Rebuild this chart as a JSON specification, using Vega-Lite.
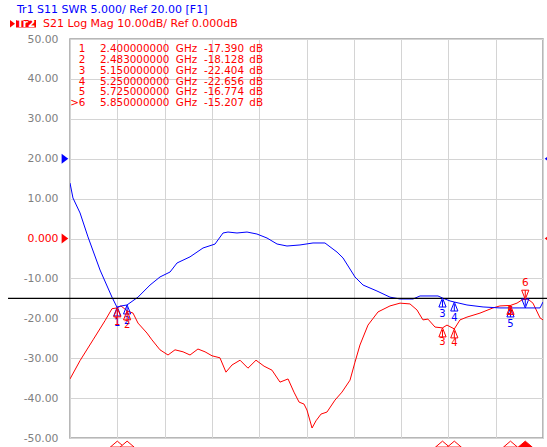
{
  "$schema": "https://vega.github.io/schema/vega-lite/v6.json",
  "width": 473,
  "height": 399,
  "autosize": {"type": "none"},
  "padding": {"left": 70, "top": 39, "right": 4, "bottom": 9},
  "background": "white",
  "config": {
    "view": {"stroke": "#a0a0a0", "strokeWidth": 1.5},
    "text": {"font": "DejaVu Sans", "fontSize": 10.4}
  },
  "datasets": {
    "s21": [
      {"f": 2.000, "db": -35.2}, {"f": 2.085, "db": -30.6}, {"f": 2.195, "db": -25.4}, {"f": 2.296, "db": -20.6},
      {"f": 2.355, "db": -17.6}, {"f": 2.400, "db": -17.39}, {"f": 2.431, "db": -16.9}, {"f": 2.483, "db": -18.13},
      {"f": 2.533, "db": -18.7}, {"f": 2.575, "db": -21.2}, {"f": 2.651, "db": -23.7}, {"f": 2.693, "db": -25.4},
      {"f": 2.761, "db": -27.9}, {"f": 2.829, "db": -29.2}, {"f": 2.888, "db": -27.9}, {"f": 2.956, "db": -28.4},
      {"f": 3.015, "db": -29.2}, {"f": 3.082, "db": -27.7}, {"f": 3.142, "db": -28.4}, {"f": 3.201, "db": -29.4},
      {"f": 3.268, "db": -29.9}, {"f": 3.319, "db": -33.5}, {"f": 3.370, "db": -31.7}, {"f": 3.438, "db": -30.5},
      {"f": 3.505, "db": -32.5}, {"f": 3.573, "db": -30.5}, {"f": 3.641, "db": -32.0}, {"f": 3.708, "db": -33.0},
      {"f": 3.776, "db": -36.0}, {"f": 3.844, "db": -35.2}, {"f": 3.894, "db": -38.5}, {"f": 3.937, "db": -41.0},
      {"f": 3.979, "db": -41.5}, {"f": 4.004, "db": -43.0}, {"f": 4.047, "db": -47.5}, {"f": 4.080, "db": -45.7},
      {"f": 4.123, "db": -44.0}, {"f": 4.173, "db": -43.5}, {"f": 4.241, "db": -40.5}, {"f": 4.300, "db": -38.5},
      {"f": 4.368, "db": -35.5}, {"f": 4.410, "db": -31.0}, {"f": 4.452, "db": -26.7}, {"f": 4.520, "db": -21.7},
      {"f": 4.605, "db": -18.4}, {"f": 4.706, "db": -16.9}, {"f": 4.791, "db": -16.2}, {"f": 4.875, "db": -16.4},
      {"f": 4.934, "db": -17.9}, {"f": 4.985, "db": -20.4}, {"f": 5.027, "db": -20.2}, {"f": 5.087, "db": -22.2},
      {"f": 5.150, "db": -22.40}, {"f": 5.188, "db": -21.7}, {"f": 5.250, "db": -22.66}, {"f": 5.298, "db": -20.4},
      {"f": 5.357, "db": -19.7}, {"f": 5.467, "db": -18.7}, {"f": 5.577, "db": -17.4}, {"f": 5.636, "db": -16.9},
      {"f": 5.725, "db": -16.77}, {"f": 5.780, "db": -16.2}, {"f": 5.822, "db": -15.4}, {"f": 5.850, "db": -15.21},
      {"f": 5.873, "db": -15.2}, {"f": 5.915, "db": -16.2}, {"f": 5.975, "db": -19.9}, {"f": 6.000, "db": -20.4}
    ],
    "s11": [
      {"f": 2.000, "swr": 16.95}, {"f": 2.025, "swr": 15.08}, {"f": 2.085, "swr": 13.2}, {"f": 2.152, "swr": 10.2},
      {"f": 2.254, "swr": 6.05}, {"f": 2.355, "swr": 2.65}, {"f": 2.397, "swr": 1.40}, {"f": 2.431, "swr": 1.54},
      {"f": 2.482, "swr": 1.67}, {"f": 2.575, "swr": 2.65}, {"f": 2.677, "swr": 4.17}, {"f": 2.761, "swr": 5.18},
      {"f": 2.846, "swr": 5.8}, {"f": 2.905, "swr": 6.93}, {"f": 3.015, "swr": 7.7}, {"f": 3.125, "swr": 8.81},
      {"f": 3.226, "swr": 9.3}, {"f": 3.294, "swr": 10.69}, {"f": 3.336, "swr": 10.81}, {"f": 3.412, "swr": 10.69},
      {"f": 3.497, "swr": 10.81}, {"f": 3.581, "swr": 10.56}, {"f": 3.666, "swr": 10.06}, {"f": 3.751, "swr": 9.31},
      {"f": 3.835, "swr": 9.06}, {"f": 3.945, "swr": 9.19}, {"f": 4.055, "swr": 9.44}, {"f": 4.156, "swr": 9.44},
      {"f": 4.258, "swr": 8.3}, {"f": 4.309, "swr": 7.56}, {"f": 4.410, "swr": 5.18}, {"f": 4.478, "swr": 4.17},
      {"f": 4.596, "swr": 3.42}, {"f": 4.706, "swr": 2.65}, {"f": 4.791, "swr": 2.42}, {"f": 4.901, "swr": 2.42},
      {"f": 4.960, "swr": 2.8}, {"f": 5.112, "swr": 2.8}, {"f": 5.150, "swr": 2.54}, {"f": 5.214, "swr": 2.17},
      {"f": 5.250, "swr": 2.04}, {"f": 5.357, "swr": 1.67}, {"f": 5.493, "swr": 1.42}, {"f": 5.636, "swr": 1.3},
      {"f": 5.805, "swr": 1.3}, {"f": 5.975, "swr": 1.3}, {"f": 6.000, "swr": 2.04}
    ],
    "markers": [
      {"n": 1, "tab": "1", "f": 2.4, "db": -17.39, "dbs": "-17.390", "swr": 1.42},
      {"n": 2, "tab": "2", "f": 2.483, "db": -18.128, "dbs": "-18.128", "swr": 1.67},
      {"n": 3, "tab": "3", "f": 5.15, "db": -22.404, "dbs": "-22.404", "swr": 2.54},
      {"n": 4, "tab": "4", "f": 5.25, "db": -22.656, "dbs": "-22.656", "swr": 2.04},
      {"n": 5, "tab": "5", "f": 5.725, "db": -16.774, "dbs": "-16.774", "swr": 1.3},
      {"n": 6, "tab": ">6", "f": 5.85, "db": -15.207, "dbs": "-15.207", "swr": 1.3}
    ],
    "limit": [{"db": -15}]
  },
  "resolve": {"scale": {"y": "independent"}},
  "layer": [
    {
      "data": {"name": "s21"},
      "mark": {"type": "line", "color": "#ff0000", "strokeWidth": 1, "clip": true},
      "encoding": {
        "x": {"field": "f", "type": "quantitative",
          "scale": {"domain": [2, 6], "nice": false, "zero": false},
          "axis": {"values": [2, 2.4, 2.8, 3.2, 3.6, 4.0, 4.4, 4.8, 5.2, 5.6, 6.0], "labels": false, "ticks": false, "domain": false, "grid": true, "gridColor": "#d4d4d4", "gridWidth": 1, "title": null}},
        "y": {"field": "db", "type": "quantitative",
          "scale": {"domain": [-50, 50], "nice": false, "zero": false},
          "axis": {"values": [-50, -40, -30, -20, -10, 0, 10, 20, 30, 40, 50], "grid": true, "gridColor": "#d4d4d4", "gridWidth": 1,
            "ticks": false, "domain": false, "labelPadding": 12, "labelFont": "DejaVu Sans", "labelFontSize": 10.8,
            "labelColor": {"condition": {"test": "datum.value === 0", "value": "#ff0000"}, "value": "#808080"},
            "labelExpr": "datum.value === 0 ? '0.000' : replace(format(datum.value, '.2f'), '\u2212', '-')", "title": null}}
      }
    },
    {
      "data": {"name": "s11"},
      "mark": {"type": "line", "color": "#0000ff", "strokeWidth": 1, "clip": true},
      "encoding": {
        "x": {"field": "f", "type": "quantitative", "scale": {"domain": [2, 6], "nice": false, "zero": false}},
        "y": {"field": "swr", "type": "quantitative", "scale": {"domain": [-15, 35], "nice": false, "zero": false}, "axis": null}
      }
    },
    {
      "data": {"name": "limit"},
      "mark": {"type": "rule", "color": "#000000", "strokeWidth": 1.3, "clip": false},
      "encoding": {
        "x": {"datum": 1.476, "type": "quantitative"},
        "x2": {"datum": 6.04},
        "y": {"field": "db", "type": "quantitative", "scale": {"domain": [-50, 50], "nice": false, "zero": false}, "axis": null}
      }
    },
    {
      "data": {"name": "markers"},
      "transform": [{"filter": "datum.n < 6"}],
      "mark": {"type": "point", "shape": "M0,0L1.2,3L-1.2,3ZM0,0.7L0,3", "size": 36, "stroke": "#0000ff", "strokeWidth": 1, "filled": false, "opacity": 1},
      "encoding": {
        "x": {"field": "f", "type": "quantitative"},
        "y": {"field": "swr", "type": "quantitative", "scale": {"domain": [-15, 35], "nice": false, "zero": false}, "axis": null}
      }
    },
    {
      "data": {"name": "markers"},
      "transform": [{"filter": "datum.n < 6"}],
      "mark": {"type": "text", "color": "#0000ff", "dy": 16, "baseline": "middle", "fontSize": 10},
      "encoding": {
        "x": {"field": "f", "type": "quantitative"},
        "y": {"field": "swr", "type": "quantitative", "scale": {"domain": [-15, 35], "nice": false, "zero": false}, "axis": null},
        "text": {"field": "n"}
      }
    },
    {
      "data": {"name": "markers"},
      "transform": [{"filter": "datum.n == 6"}],
      "mark": {"type": "point", "shape": "M0,0L1.2,-3L-1.2,-3ZM0,-0.7L0,-3", "size": 36, "stroke": "#0000ff", "strokeWidth": 1, "filled": false, "opacity": 1},
      "encoding": {
        "x": {"field": "f", "type": "quantitative"},
        "y": {"field": "swr", "type": "quantitative", "scale": {"domain": [-15, 35], "nice": false, "zero": false}, "axis": null}
      }
    },
    {
      "data": {"name": "markers"},
      "transform": [{"filter": "datum.n < 6"}],
      "mark": {"type": "point", "shape": "M0,0L1.2,3L-1.2,3ZM0,0.7L0,3", "size": 36, "stroke": "#ff0000", "strokeWidth": 1, "filled": false, "opacity": 1},
      "encoding": {
        "x": {"field": "f", "type": "quantitative"},
        "y": {"field": "db", "type": "quantitative", "scale": {"domain": [-50, 50], "nice": false, "zero": false}, "axis": null}
      }
    },
    {
      "data": {"name": "markers"},
      "transform": [{"filter": "datum.n == 6"}],
      "mark": {"type": "point", "shape": "M0,0L1.2,-3L-1.2,-3ZM0,-0.7L0,-3", "size": 36, "stroke": "#ff0000", "strokeWidth": 1, "filled": false, "opacity": 1},
      "encoding": {
        "x": {"field": "f", "type": "quantitative"},
        "y": {"field": "db", "type": "quantitative", "scale": {"domain": [-50, 50], "nice": false, "zero": false}, "axis": null}
      }
    },
    {
      "data": {"name": "markers"},
      "transform": [{"filter": "datum.n < 5"}],
      "mark": {"type": "text", "color": "#ff0000", "baseline": "middle", "fontSize": 10, "dy": 14},
      "encoding": {
        "x": {"field": "f", "type": "quantitative"},
        "y": {"field": "db", "type": "quantitative", "scale": {"domain": [-50, 50], "nice": false, "zero": false}, "axis": null},
        "text": {"field": "n"}
      }
    },
    {
      "data": {"name": "markers"},
      "transform": [{"filter": "datum.n == 5"}],
      "mark": {"type": "text", "color": "#ff0000", "baseline": "middle", "fontSize": 10, "dy": 6},
      "encoding": {
        "x": {"field": "f", "type": "quantitative"},
        "y": {"field": "db", "type": "quantitative", "scale": {"domain": [-50, 50], "nice": false, "zero": false}, "axis": null},
        "text": {"field": "n"}
      }
    },
    {
      "data": {"name": "markers"},
      "transform": [{"filter": "datum.n == 6"}],
      "mark": {"type": "text", "color": "#ff0000", "baseline": "middle", "fontSize": 10.5, "dy": -16},
      "encoding": {
        "x": {"field": "f", "type": "quantitative"},
        "y": {"field": "db", "type": "quantitative", "scale": {"domain": [-50, 50], "nice": false, "zero": false}, "axis": null},
        "text": {"field": "n"}
      }
    },
    {
      "data": {"name": "markers"},
      "mark": {"type": "point", "shape": "M0,0.45L1,1.3L-1,1.3Z", "size": 196, "stroke": "#ff0000", "strokeWidth": 1, "filled": true, "opacity": 1, "clip": false},
      "encoding": {
        "x": {"field": "f", "type": "quantitative"},
        "y": {"datum": -50, "type": "quantitative", "scale": {"domain": [-50, 50], "nice": false, "zero": false}, "axis": null},
        "fill": {"condition": {"test": "datum.n == 6", "value": "#ff0000"}, "value": "#ffffff"}
      }
    },
    {
      "data": {"name": "markers"},
      "mark": {"type": "text", "color": "#ff0000", "align": "right", "baseline": "middle"},
      "encoding": {
        "x": {"datum": 2.131, "type": "quantitative"},
        "y": {"field": "n", "type": "ordinal", "scale": {"type": "point", "domain": [1, 2, 3, 4, 5, 6], "range": [10, 64.3], "padding": 0}, "axis": null},
        "text": {"field": "tab"}
      }
    },
    {
      "data": {"name": "markers"},
      "mark": {"type": "text", "color": "#ff0000", "align": "left", "baseline": "middle"},
      "encoding": {
        "x": {"datum": 2.2537, "type": "quantitative"},
        "y": {"field": "n", "type": "ordinal", "scale": {"type": "point", "domain": [1, 2, 3, 4, 5, 6], "range": [10, 64.3], "padding": 0}, "axis": null},
        "text": {"field": "f", "format": ".9f"}
      }
    },
    {
      "data": {"name": "markers"},
      "mark": {"type": "text", "color": "#ff0000", "align": "left", "baseline": "middle", "text": "GHz"},
      "encoding": {
        "x": {"datum": 2.895, "type": "quantitative"},
        "y": {"field": "n", "type": "ordinal", "scale": {"type": "point", "domain": [1, 2, 3, 4, 5, 6], "range": [10, 64.3], "padding": 0}, "axis": null}
      }
    },
    {
      "data": {"name": "markers"},
      "mark": {"type": "text", "color": "#ff0000", "align": "right", "baseline": "middle"},
      "encoding": {
        "x": {"datum": 3.4715, "type": "quantitative"},
        "y": {"field": "n", "type": "ordinal", "scale": {"type": "point", "domain": [1, 2, 3, 4, 5, 6], "range": [10, 64.3], "padding": 0}, "axis": null},
        "text": {"field": "dbs"}
      }
    },
    {
      "data": {"name": "markers"},
      "mark": {"type": "text", "color": "#ff0000", "align": "left", "baseline": "middle", "text": "dB"},
      "encoding": {
        "x": {"datum": 3.5163, "type": "quantitative"},
        "y": {"field": "n", "type": "ordinal", "scale": {"type": "point", "domain": [1, 2, 3, 4, 5, 6], "range": [10, 64.3], "padding": 0}, "axis": null}
      }
    },
    {
      "data": {"values": [{"tr": "Tr1", "ref": 20}]},
      "layer": [
        {"mark": {"type": "point", "shape": "M-1.68,-1L-0.34,0L-1.68,1Z", "size": 100, "filled": true, "color": "#0000ff", "opacity": 1, "clip": false},
         "encoding": {"x": {"datum": 2, "type": "quantitative"}}},
        {"mark": {"type": "point", "shape": "M0.34,0L1.68,-1L1.68,1Z", "size": 100, "filled": true, "color": "#0000ff", "opacity": 1, "clip": false},
         "encoding": {"x": {"datum": 6, "type": "quantitative"}}}
      ],
      "encoding": {
        "y": {"field": "ref", "type": "quantitative", "scale": {"domain": [-15, 35], "nice": false, "zero": false}, "axis": null}
      }
    },
    {
      "data": {"values": [{"tr": "Tr2", "ref": 0}]},
      "layer": [
        {"mark": {"type": "point", "shape": "M-1.68,-1L-0.34,0L-1.68,1Z", "size": 100, "filled": true, "color": "#ff0000", "opacity": 1, "clip": false},
         "encoding": {"x": {"datum": 2, "type": "quantitative"}}},
        {"mark": {"type": "point", "shape": "M0.34,0L1.68,-1L1.68,1Z", "size": 100, "filled": true, "color": "#ff0000", "opacity": 1, "clip": false},
         "encoding": {"x": {"datum": 6, "type": "quantitative"}}}
      ],
      "encoding": {
        "y": {"field": "ref", "type": "quantitative", "scale": {"domain": [-50, 50], "nice": false, "zero": false}, "axis": null}
      }
    },
    {
      "data": {"values": [{"line": "Tr1 S11 SWR 5.000/ Ref 20.00 [F1]"}]},
      "mark": {"type": "text", "color": "#0000ff", "align": "left", "baseline": "middle", "fontSize": 11},
      "encoding": {
        "x": {"datum": 1.5518, "type": "quantitative"},
        "y": {"datum": 57.3, "type": "quantitative", "scale": {"domain": [-50, 50], "nice": false, "zero": false}, "axis": null},
        "text": {"field": "line"}
      }
    },
    {
      "data": {"values": [{"line": "S21 Log Mag 10.00dB/ Ref 0.000dB"}]},
      "mark": {"type": "text", "color": "#ff0000", "align": "left", "baseline": "middle", "fontSize": 11},
      "encoding": {
        "x": {"datum": 1.7717, "type": "quantitative"},
        "y": {"datum": 53.7, "type": "quantitative", "scale": {"domain": [-50, 50], "nice": false, "zero": false}, "axis": null},
        "text": {"field": "line"}
      }
    },
    {
      "data": {"values": [{"tr": "Tr2"}]},
      "mark": {"type": "rect", "color": "#ff0000", "clip": false},
      "encoding": {
        "x": {"datum": 1.5433, "type": "quantitative"},
        "x2": {"datum": 1.7125},
        "y": {"datum": 54.76, "type": "quantitative", "scale": {"domain": [-50, 50], "nice": false, "zero": false}, "axis": null},
        "y2": {"datum": 52.88}
      }
    },
    {
      "data": {"values": [{"tr": "Tr2"}]},
      "mark": {"type": "text", "color": "#ffffff", "align": "center", "baseline": "middle", "fontSize": 10.5, "fontWeight": "bold"},
      "encoding": {
        "x": {"datum": 1.6279, "type": "quantitative"},
        "y": {"datum": 53.83, "type": "quantitative", "scale": {"domain": [-50, 50], "nice": false, "zero": false}, "axis": null},
        "text": {"field": "tr"}
      }
    },
    {
      "data": {"values": [{"tr": "Tr2"}]},
      "mark": {"type": "point", "shape": "M-1.33,-1L0,0L-1.33,1Z", "size": 56, "filled": true, "color": "#ff0000", "opacity": 1, "clip": false},
      "encoding": {
        "x": {"datum": 1.5349, "type": "quantitative"},
        "y": {"datum": 53.83, "type": "quantitative", "scale": {"domain": [-50, 50], "nice": false, "zero": false}, "axis": null}
      }
    }
  ]
}
